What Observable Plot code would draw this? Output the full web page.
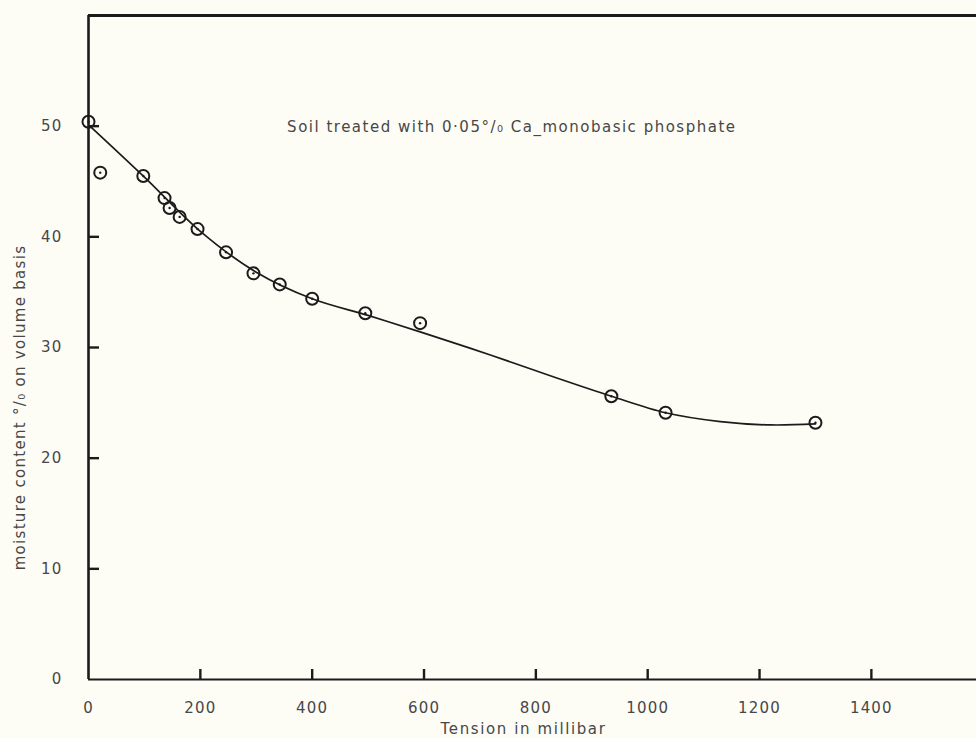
<!DOCTYPE html>
<html>
<head>
<meta charset="utf-8">
<script src="https://cdn.jsdelivr.net/npm/d3@7"></script>
<script src="https://cdn.jsdelivr.net/npm/@observablehq/plot@0.6"></script>
<style>
  html, body { margin: 0; padding: 0; background: #fdfdf6; }
  #chart svg { display: block; background: #fdfdf6; }
</style>
</head>
<body>
<div id="chart"></div>
<script>
// Measured points (tension in millibar, moisture content % by volume)
const tension  = [0, 21, 98, 136, 145, 163, 195, 246, 295, 342, 400, 495, 593, 935, 1032, 1300];
const moisture = [50.4, 45.8, 45.5, 43.5, 42.6, 41.8, 40.7, 38.6, 36.7, 35.7, 34.4, 33.1, 32.2, 25.6, 24.1, 23.2];

// Hand-drawn fitted curve
const curveTension  = [5, 100, 200, 300, 400, 500, 600, 720, 840, 935, 1032, 1130, 1220, 1300];
const curveMoisture = [49.9, 45.4, 40.5, 36.8, 34.4, 32.9, 31.3, 29.3, 27.2, 25.6, 24.1, 23.3, 23.0, 23.1];

// Axis ticks
const xTicks = [0, 200, 400, 600, 800, 1000, 1200, 1400];
const yTicks = [0, 10, 20, 30, 40, 50];
const xInnerTicks = [200, 400, 600, 800, 1000, 1200, 1400];
const yInnerTicks = [10, 20, 30, 40, 50];

const titleText = ["Soil treated with 0·05°/₀ Ca_monobasic phosphate"];
const titlePos = {x: 757, y: 49.9};
const xLabel = ["Tension in millibar"];
const yLabel = ["moisture content °/₀ on volume basis"];

const points = tension.map((t, i) => ({t, m: moisture[i]}));
const curve = curveTension.map((t, i) => ({t, m: curveMoisture[i]}));

const W = 976, H = 738;
const mL = 88, mR = 0, mT = 15, mB = 59;
const plotW = W - mL - mR, plotH = H - mT - mB;
const ink = "#1b1b1b";
const textInk = "#474747";
const font = "'DejaVu Sans', sans-serif";

const chart = Plot.plot({
  width: W,
  height: H,
  marginLeft: mL,
  marginRight: mR,
  marginTop: mT,
  marginBottom: mB,
  style: {background: "#fdfdf6", fontFamily: font, color: textInk},
  x: {domain: [0, 1588], ticks: xTicks, tickFormat: d => String(d), label: null},
  y: {domain: [0, 60], ticks: yTicks, tickFormat: d => String(d), label: null},
  marks: [
    // frame: top, left, bottom
    Plot.ruleY([60], {stroke: ink, strokeWidth: 3}),
    Plot.ruleX([0], {stroke: ink, strokeWidth: 2.6}),
    Plot.ruleY([0], {stroke: ink, strokeWidth: 2.2}),
    // inward ticks
    Plot.tickX(xInnerTicks, {x: d => d, stroke: ink, strokeWidth: 2.4, insetTop: plotH - 10}),
    Plot.tickY(yInnerTicks, {y: d => d, stroke: ink, strokeWidth: 2.4, insetRight: plotW - 11}),
    // tick labels
    Plot.axisX({ticks: xTicks, tickSize: 0, tickPadding: 23, tickFormat: d => String(d), fontSize: 15, fill: textInk, label: null}),
    Plot.axisY({ticks: yTicks, tickSize: 0, tickPadding: 26, tickFormat: d => String(d), fontSize: 15, fill: textInk, label: null}),
    // fitted curve
    Plot.line(curve, {x: "t", y: "m", curve: "catmull-rom", stroke: ink, strokeWidth: 1.7}),
    // measured points: ring with centre dot
    Plot.dot(points, {x: "t", y: "m", r: 6, stroke: ink, strokeWidth: 2, fill: "none"}),
    Plot.dot(points, {x: "t", y: "m", r: 1.2, fill: ink, stroke: "none"}),
    // annotation
    Plot.text(titleText, {x: () => titlePos.x, y: () => titlePos.y, text: d => d, fontSize: 15, fill: textInk, textAnchor: "middle", className: "ann"}),
    // x label
    Plot.text(xLabel, {frameAnchor: "bottom", text: d => d, textAnchor: "middle", dx: -9, dy: 54, fontSize: 15, fill: textInk, className: "xlab"}),
    // y label
    Plot.text(yLabel, {frameAnchor: "left", text: d => d, textAnchor: "middle", rotate: -90, dx: -68, dy: 60, fontSize: 15, fill: textInk, className: "ylab"})
  ]
});

// letter spacing for the stencil-style lettering
chart.querySelectorAll("text").forEach(t => t.setAttribute("letter-spacing", "1.2"));
chart.querySelectorAll(".ann text").forEach(t => t.setAttribute("letter-spacing", "1.5"));
chart.querySelectorAll(".xlab text").forEach(t => t.setAttribute("letter-spacing", "1.6"));
chart.querySelectorAll(".ylab text").forEach(t => t.setAttribute("letter-spacing", "1.3"));
document.getElementById("chart").appendChild(chart);
</script>
</body>
</html>
